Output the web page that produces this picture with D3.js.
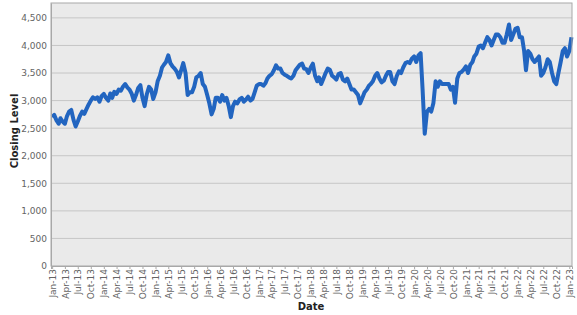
<!DOCTYPE html>
<html>
<head>
<meta charset="utf-8">
<script src="https://cdn.jsdelivr.net/npm/d3@7"></script>
<style>
  body { margin: 0; background: #fff; }
  text { font-family: "DejaVu Sans", Verdana, sans-serif; }
</style>
</head>
<body>
<div id="chart-area"></div>
<script>
// half-month closing levels (1st and 16th of each month)
var v2013 = [2700, 2740, 2640, 2580, 2680, 2620, 2580, 2720, 2800, 2830, 2650, 2530,
             2620, 2720, 2800, 2760, 2850, 2930, 3000, 3060, 3030, 3060, 2980, 3080];
var v2014 = [3120, 3050, 3000, 3130, 3050, 3160, 3120, 3200, 3180, 3250, 3300, 3240,
             3200, 3130, 3000, 3100, 3230, 3280, 3050, 2900, 3120, 3250, 3200, 3030];
var v2015 = [3150, 3350, 3450, 3600, 3650, 3700, 3820, 3680, 3620, 3580, 3520, 3420,
             3550, 3680, 3500, 3100, 3150, 3150, 3250, 3420, 3450, 3500, 3300, 3250];
var v2016 = [3100, 2950, 2750, 2850, 3050, 3050, 2980, 3100, 3000, 3050, 2900, 2700,
             2900, 2980, 2950, 3020, 3050, 2980, 3020, 3070, 3000, 3030, 3150, 3270];
var v2017 = [3300, 3300, 3270, 3320, 3400, 3450, 3480, 3550, 3640, 3580, 3580, 3500,
             3470, 3450, 3420, 3400, 3450, 3550, 3600, 3650, 3670, 3580, 3570, 3500];
var v2018 = [3600, 3670, 3450, 3350, 3420, 3300, 3400, 3500, 3580, 3560, 3450, 3420,
             3380, 3480, 3500, 3380, 3350, 3400, 3300, 3200, 3200, 3150, 3100, 2950];
var v2019 = [3050, 3150, 3200, 3270, 3300, 3350, 3450, 3500, 3400, 3330, 3360, 3450,
             3520, 3520, 3350, 3300, 3450, 3530, 3500, 3600, 3680, 3700, 3680, 3760];
var v2020 = [3800, 3700, 3820, 3860, 3200, 2400, 2800, 2850, 2800, 2950, 3350, 3250,
             3350, 3300, 3300, 3300, 3300, 3200, 3250, 2960, 3400, 3500, 3520, 3560];
var v2021 = [3620, 3500, 3650, 3700, 3800, 3850, 3980, 4000, 3950, 4050, 4150, 4100,
             4000, 4100, 4200, 4200, 4150, 4050, 4050, 4200, 4380, 4100, 4200, 4300];
var v2022 = [4320, 4150, 4150, 3900, 3550, 3900, 3850, 3750, 3700, 3750, 3800, 3450,
             3500, 3600, 3750, 3700, 3500, 3350, 3300, 3500, 3700, 3900, 3950, 3800];
var v2023 = [3900, 4150];

var yTicks = [0, 500, 1000, 1500, 2000, 2500, 3000, 3500, 4000, 4500];

var years = [2013, 2014, 2015, 2016, 2017, 2018, 2019, 2020, 2021, 2022, 2023];
var series = [v2013, v2014, v2015, v2016, v2017, v2018, v2019, v2020, v2021, v2022, v2023];

var data = [];
series.forEach((vals, k) => {
    vals.forEach((v, i) => {
        data.push({ date: new Date(years[k], Math.floor(i / 2), i % 2 === 0 ? 1 : 16), value: v });
    });
});

var margin = {left: 51, right: 5, top: 3, bottom: 49};
var width = 577 - margin.left - margin.right;
var height = 315 - margin.top - margin.bottom;

var svg = d3.select("#chart-area")
  .append("svg")
    .attr("width", 577)
    .attr("height", 315);

var g = svg.append("g")
    .attr("transform", "translate(" + margin.left + ", " + margin.top + ")");

var x = d3.scaleTime()
    .domain([new Date(2012, 11, 24), new Date(2023, 0, 20)])
    .range([0, width]);

var y = d3.scaleLinear()
    .domain([0, 4770])
    .range([height, 0]);

// plot background
g.append("rect")
    .attr("width", width)
    .attr("height", height)
    .attr("fill", "#eaeaea");

// gridlines
g.selectAll(".grid").data(yTicks.slice(1))
  .enter().append("line")
    .attr("class", "grid")
    .attr("x1", 0)
    .attr("x2", width)
    .attr("y1", (d) => y(d))
    .attr("y2", (d) => y(d))
    .attr("stroke", "#c6c6c6")
    .attr("stroke-width", 1);

var line = d3.line()
    .x((d) => x(d.date))
    .y((d) => y(d.value));

g.append("path")
    .datum(data)
    .attr("d", line)
    .attr("fill", "none")
    .attr("stroke", "#2265c0")
    .attr("stroke-width", 4)
    .attr("stroke-linejoin", "round");

// frame
g.append("rect")
    .attr("width", width)
    .attr("height", height)
    .attr("fill", "none")
    .attr("stroke", "#a8a8a8")
    .attr("stroke-width", 1);

var xTicks = d3.timeMonth.range(new Date(2013, 0, 1), new Date(2023, 0, 2), 3);

var bottomAxis = d3.axisBottom(x)
    .tickValues(xTicks)
    .tickSize(3)
    .tickFormat(d3.timeFormat("%b-%y"));

var xg = g.append("g")
    .attr("class", "bottom axis")
    .attr("transform", "translate(0, " + height + ")")
    .call(bottomAxis);
xg.select(".domain").attr("stroke", "#a8a8a8");
xg.selectAll(".tick line").attr("stroke", "#a8a8a8");
xg.selectAll("text")
    .attr("fill", "#646464")
    .attr("font-size", "9px")
    .attr("y", 0)
    .attr("x", -3)
    .attr("dy", "0.35em")
    .attr("text-anchor", "end")
    .attr("transform", "rotate(-90)");

var leftAxis = d3.axisLeft(y)
    .tickValues(yTicks)
    .tickSize(0)
    .tickPadding(4)
    .tickFormat(d3.format(","));
var yg = g.append("g")
    .attr("class", "left axis")
    .call(leftAxis);
yg.select(".domain").attr("stroke", "#a8a8a8");
yg.selectAll("text")
    .attr("fill", "#646464")
    .attr("font-size", "9px");

g.append("text")
    .attr("class", "x axis-label")
    .attr("x", 311 - margin.left)
    .attr("y", 310 - margin.top)
    .attr("font-size", "10px")
    .attr("font-weight", "bold")
    .attr("fill", "#222")
    .attr("text-anchor", "middle")
    .text("Date");

g.append("text")
    .attr("class", "y axis-label")
    .attr("x", -(131 - margin.top))
    .attr("y", 18 - margin.left)
    .attr("font-size", "10px")
    .attr("font-weight", "bold")
    .attr("fill", "#222")
    .attr("text-anchor", "middle")
    .attr("transform", "rotate(-90)")
    .text("Closing Level");
</script>
</body>
</html>
